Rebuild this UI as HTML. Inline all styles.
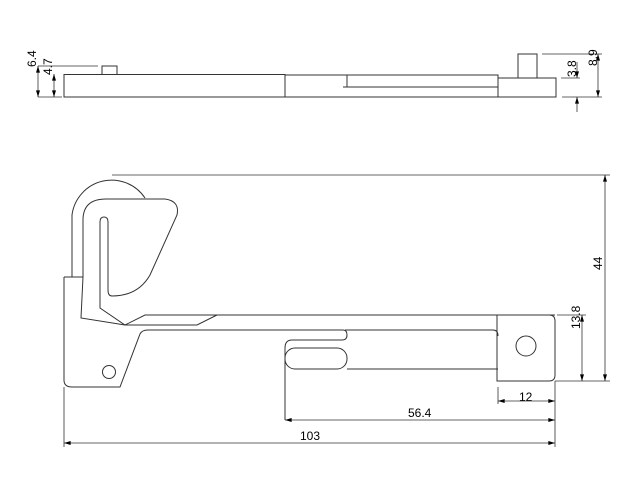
<!DOCTYPE html>
<html><head><meta charset="utf-8"><style>
html,body{margin:0;padding:0;background:#fff;}
svg{display:block;}
text{font-family:"Liberation Sans",sans-serif;font-size:12px;fill:#000;}
</style></head><body>
<svg width="636" height="500" viewBox="0 0 636 500" xmlns="http://www.w3.org/2000/svg">
<defs>
<marker id="a" viewBox="0 0 10 6" refX="10" refY="3" markerWidth="8" markerHeight="4" orient="auto-start-reverse" markerUnits="userSpaceOnUse"><path d="M0,0 L10,3 L0,6 z" fill="#000"/></marker>
</defs>
<g fill="none" stroke="#333" stroke-width="1">
<rect x="64" y="74.5" width="221" height="22.5"/>
<rect x="102" y="66" width="15" height="8.5"/>
<path d="M285,75 H498 V97 H285"/>
<path d="M347,75 V87 M343,87 H498"/>
<path d="M498,78 H556 V97 H498"/>
<rect x="518" y="54" width="19" height="24"/>
<path d="M38,66 H98 M38,97 H62" stroke-width="0.8"/>
<line x1="38" y1="66" x2="38" y2="97" marker-start="url(#a)" marker-end="url(#a)" stroke-width="0.8"/>
<line x1="54" y1="74" x2="54" y2="97" marker-start="url(#a)" marker-end="url(#a)" stroke-width="0.8"/>
<path d="M542,54 H602 M562,97 H602 M561,78 H580" stroke-width="0.8"/>
<line x1="598" y1="54" x2="598" y2="97" marker-start="url(#a)" marker-end="url(#a)" stroke-width="0.8"/>
<line x1="577" y1="62" x2="577" y2="78" marker-end="url(#a)" stroke-width="0.8"/>
<line x1="577" y1="112" x2="577" y2="97" marker-end="url(#a)" stroke-width="0.8"/>

<path d="M72,277 V215 A40,40 0 0 1 145,198"/>
<path d="M112,175 H610" stroke-width="0.8"/>
<path d="M83,277 V220 Q83,199 106,199 H165 Q180,201 177,215 L150,275 Q138,296 112,296 Q108,296 108,290 V222 Q108,217 104,217 Q100,217 100,222 V308 L125,325 L145,315 H555"/>
<path d="M83,277 L81,318 L125,325 H197 L217,315"/>
<path d="M64,277 H83 M64,277 V380 Q64,387 72,387 H120 L140,334 Q142,330 148,330 H343 Q347,330 347,335 Q347,340 342,340 H292 Q285,340 285,348 V420"/>
<path d="M345,330 H493 Q498,330 498,336"/>
<rect x="285" y="348" width="62" height="21" rx="10"/>
<path d="M347,369 H498"/>
<circle cx="109" cy="372" r="6.5"/>
<path d="M497,315 H549 Q555,315 555,321 V375 Q555,381 549,381 H497 Z"/>
<circle cx="526" cy="346" r="10"/>
<path d="M555,381 H610 M555,381 V447 M557,315 H586 M64,387 V447 M498,387 V404" stroke-width="0.8"/>
<line x1="605" y1="175" x2="605" y2="381" marker-start="url(#a)" marker-end="url(#a)" stroke-width="0.8"/>
<line x1="582" y1="315" x2="582" y2="381" marker-start="url(#a)" marker-end="url(#a)" stroke-width="0.8"/>
<line x1="498" y1="401" x2="555" y2="401" marker-start="url(#a)" marker-end="url(#a)" stroke-width="0.8"/>
<line x1="285" y1="420" x2="555" y2="420" marker-start="url(#a)" marker-end="url(#a)" stroke-width="0.8"/>
<line x1="64" y1="443" x2="555" y2="443" marker-start="url(#a)" marker-end="url(#a)" stroke-width="0.8"/>
</g>
<text transform="translate(36,67) rotate(-90)">6.4</text>
<text transform="translate(52,75) rotate(-90)">4.7</text>
<text transform="translate(576,77) rotate(-90)">3.8</text>
<text transform="translate(597,66) rotate(-90)">8.9</text>
<text transform="translate(602,270) rotate(-90)">44</text>
<text transform="translate(580,329) rotate(-90)">13.8</text>
<text x="519" y="401">12</text>
<text x="408" y="417">56.4</text>
<text x="300" y="440">103</text>
</svg>
</body></html>
